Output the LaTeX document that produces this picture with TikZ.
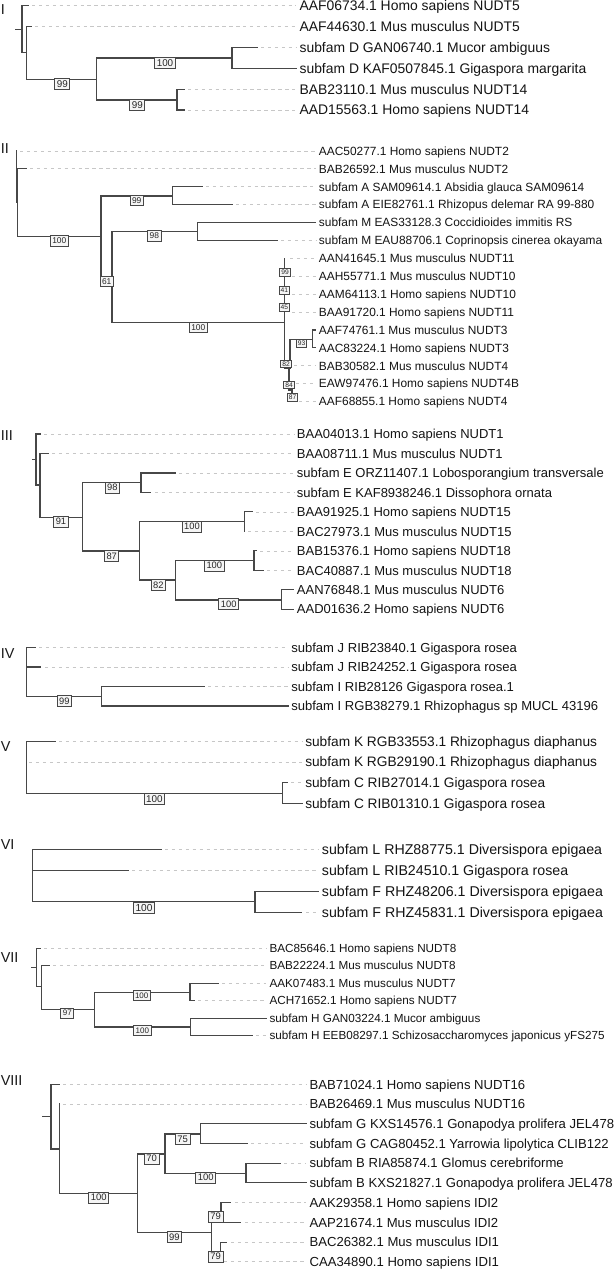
\documentclass[tikz,border=0pt]{standalone}
\usepackage{fontspec}
\setmainfont{Liberation Sans}
\newcommand\lv[6]{\draw[guide] (#1,#2) -- ({#3-3},#2); \node[#4] (#6) at (#3,#2) {#5};}
\begin{document}
\begin{tikzpicture}[x=0.75pt,y=-0.75pt,
 br/.style={draw=black!72, line width=0.85pt, line cap=rect},
 guide/.style={draw=black!22, line width=0.6pt, dash pattern=on 2.6pt off 2.6pt},
 lab/.style={anchor=base west, inner sep=0pt, text=black!92},
 LI/.style={lab, font=\fontsize{10.43}{12}\selectfont, yshift=-3.73pt},
 LII/.style={lab, font=\fontsize{8.93}{11}\selectfont, yshift=-3.2pt},
 LIII/.style={lab, font=\fontsize{9.75}{12}\selectfont, yshift=-3.49pt},
 LIV/.style={lab, font=\fontsize{9.79}{12}\selectfont, yshift=-3.5pt},
 LV/.style={lab, font=\fontsize{10.28}{12}\selectfont, yshift=-3.68pt},
 LVI/.style={lab, font=\fontsize{10.65}{12}\selectfont, yshift=-3.81pt},
 LVII/.style={lab, font=\fontsize{8.78}{11}\selectfont, yshift=-3.14pt},
 LVIII/.style={lab, font=\fontsize{9.83}{12}\selectfont, yshift=-3.52pt},
 num/.style={anchor=west, inner sep=0pt, font=\fontsize{10.8}{12}\selectfont, text=black!90},
 bs/.style={draw=black!72, fill=black!4, line width=0.7pt, inner xsep=1.5pt, inner ysep=1.6pt, text=black!85},
 bI/.style={bs, font=\fontsize{7.4}{8}\selectfont},
 bII/.style={bs, font=\fontsize{6.3}{7}\selectfont},
 bIIs/.style={bs, font=\fontsize{5}{6}\selectfont, inner xsep=1pt, inner ysep=1.2pt},
 bIII/.style={bs, font=\fontsize{7.0}{8}\selectfont},
 bV/.style={bs, font=\fontsize{7.4}{8}\selectfont},
 bVI/.style={bs, font=\fontsize{7.6}{8}\selectfont},
 bVII/.style={bs, font=\fontsize{6.0}{7}\selectfont},
 bVIII/.style={bs, font=\fontsize{7.1}{8}\selectfont},
]
\fill[white] (0,0) rectangle (614,1269);
\useasboundingbox (0,0) rectangle (614,1269);

% ---------------- I ----------------
\node[num] (nI) at (0.5,9.3) {I};
\draw[br] (16,29.2) -- (22,29.2);
\draw[br] (28,5.7) -- (22,5.7) -- (22,52.7) -- (26.7,52.7);
\draw[br] (31,26.7) -- (26.7,26.7) -- (26.7,79.3) -- (96.7,79.3);
\draw[br] (232,58) -- (96.7,58) -- (96.7,100) -- (177,100);
\draw[br] (257,47.7) -- (232,47.7) -- (232,68.3) -- (296.3,68.3);
\draw[br] (184,89.3) -- (177,89.3) -- (177,110) -- (184,110);
\node[bI] (bI1) at (62.3,84.3) {99};
\node[bI] (bI2) at (165,63) {100};
\node[bI] (bI3) at (137.3,105.3) {99};
\lv{32}{5.7}{299.3}{LI}{AAF06734.1 Homo sapiens NUDT5}{I1}
\lv{35}{26.7}{299.3}{LI}{AAF44630.1 Mus musculus NUDT5}{I2}
\lv{261}{47.7}{299.3}{LI}{subfam D GAN06740.1 Mucor ambiguus}{I3}
\lv{296.3}{68.3}{299.3}{LI}{subfam D KAF0507845.1 Gigaspora margarita}{I4}
\lv{188}{89.3}{299.3}{LI}{BAB23110.1 Mus musculus NUDT14}{I5}
\lv{188}{110}{299.3}{LI}{AAD15563.1 Homo sapiens NUDT14}{I6}

% ---------------- II ----------------
\node[num] (nII) at (0.5,148.3) {II};
\draw[br] (16.5,151) -- (16.5,202.8) -- (17.5,202.8);
\draw[br] (26.7,168.9) -- (17.5,168.9) -- (17.5,236.7) -- (101,236.7);
\draw[br] (172.3,196) -- (101,196) -- (101,277) -- (112,277);
\draw[br] (202.3,186.8) -- (172.3,186.8) -- (172.3,204.7) -- (232.7,204.7);
\draw[br] (197.3,231.7) -- (112,231.7) -- (112,322.3) -- (284.3,322.3);
\draw[br] (315.7,222.6) -- (197.3,222.6) -- (197.3,240.5) -- (277.3,240.5);
\draw[br] (284.3,258.4) -- (284.3,368) -- (289,368) -- (289,390) -- (292,390) -- (292,401.6);
\draw[br] (290,368) -- (290,339.3) -- (312.3,339.3);
\draw[br] (315,330) -- (312.3,330) -- (312.3,347.9) -- (315,347.9);
\node[bII] (bII1) at (59.3,241) {100};
\node[bII] (bII2) at (136.7,200.7) {99};
\node[bII] (bII3) at (106.7,281.5) {61};
\node[bII] (bII4) at (154.3,236) {98};
\node[bII] (bII5) at (198.3,327.3) {100};
\node[bIIs] (bII6) at (285,272.7) {99};
\node[bIIs] (bII7) at (284.3,290.3) {41};
\node[bIIs] (bII8) at (284.3,307.7) {45};
\node[bIIs] (bII9) at (301.7,343.7) {93};
\node[bIIs] (bII10) at (286,364) {82};
\node[bIIs] (bII11) at (289,385) {84};
\node[bIIs] (bII12) at (292.7,397.3) {87};
\lv{20}{151}{318.7}{LII}{AAC50277.1 Homo sapiens NUDT2}{II1}
\lv{30}{168.9}{318.7}{LII}{BAB26592.1 Mus musculus NUDT2}{II2}
\lv{206}{186.8}{318.7}{LII}{subfam A SAM09614.1 Absidia glauca SAM09614}{II3}
\lv{236}{204.7}{318.7}{LII}{subfam A EIE82761.1 Rhizopus delemar RA 99-880}{II4}
\lv{315.7}{222.6}{318.7}{LII}{subfam M EAS33128.3 Coccidioides immitis RS}{II5}
\lv{281}{240.5}{318.7}{LII}{subfam M EAU88706.1 Coprinopsis cinerea okayama}{II6}
\lv{290}{258.4}{318.7}{LII}{AAN41645.1 Mus musculus NUDT11}{II7}
\lv{292}{276.3}{318.7}{LII}{AAH55771.1 Mus musculus NUDT10}{II8}
\lv{292}{294.2}{318.7}{LII}{AAM64113.1 Homo sapiens NUDT10}{II9}
\lv{292}{312.1}{318.7}{LII}{BAA91720.1 Homo sapiens NUDT11}{II10}
\lv{315.7}{330}{318.7}{LII}{AAF74761.1 Mus musculus NUDT3}{II11}
\lv{315.7}{347.9}{318.7}{LII}{AAC83224.1 Homo sapiens NUDT3}{II12}
\lv{294}{365.8}{318.7}{LII}{BAB30582.1 Mus musculus NUDT4}{II13}
\lv{296}{383.7}{318.7}{LII}{EAW97476.1 Homo sapiens NUDT4B}{II14}
\lv{299}{401.6}{318.7}{LII}{AAF68855.1 Homo sapiens NUDT4}{II15}

% ---------------- III ----------------
\node[num] (nIII) at (0.5,436) {III};
\draw[br] (32.7,459.5) -- (36,459.5);
\draw[br] (40,434) -- (36,434) -- (36,485) -- (40,485);
\draw[br] (48.3,453.5) -- (40,453.5) -- (40,517.3) -- (82.7,517.3);
\draw[br] (141,482.7) -- (82.7,482.7) -- (82.7,551) -- (139.3,551);
\draw[br] (175,473) -- (141,473) -- (141,492.4) -- (150.7,492.4);
\draw[br] (244.3,521.7) -- (139.3,521.7) -- (139.3,580) -- (175.7,580);
\draw[br] (252.3,511.9) -- (244.3,511.9) -- (244.3,531.4);
\draw[br] (254,560.7) -- (175.7,560.7) -- (175.7,600) -- (281.7,600);
\draw[br] (256,550.9) -- (254,550.9) -- (254,570.4) -- (263.3,570.4);
\draw[br] (293.7,589.8) -- (281.7,589.8) -- (281.7,609.3) -- (293.7,609.3);
\node[bIII] (bIII1) at (61,521.7) {91};
\node[bIII] (bIII2) at (112.3,487.7) {98};
\node[bIII] (bIII3) at (111.7,556) {87};
\node[bIII] (bIII4) at (192,526.7) {100};
\node[bIII] (bIII5) at (158.3,585) {82};
\node[bIII] (bIII6) at (214.3,565.7) {100};
\node[bIII] (bIII7) at (228.7,604.3) {100};
\lv{44}{434}{296.7}{LIII}{BAA04013.1 Homo sapiens NUDT1}{III1}
\lv{52}{453.5}{296.7}{LIII}{BAA08711.1 Mus musculus NUDT1}{III2}
\lv{179}{473}{296.7}{LIII}{subfam E ORZ11407.1 Lobosporangium transversale}{III3}
\lv{155}{492.4}{296.7}{LIII}{subfam E KAF8938246.1 Dissophora ornata}{III4}
\lv{256}{511.9}{296.7}{LIII}{BAA91925.1 Homo sapiens NUDT15}{III5}
\lv{248}{531.4}{296.7}{LIII}{BAC27973.1 Mus musculus NUDT15}{III6}
\lv{260}{550.9}{296.7}{LIII}{BAB15376.1 Homo sapiens NUDT18}{III7}
\lv{267}{570.4}{296.7}{LIII}{BAC40887.1 Mus musculus NUDT18}{III8}
\lv{293.7}{589.8}{296.7}{LIII}{AAN76848.1 Mus musculus NUDT6}{III9}
\lv{293.7}{609.3}{296.7}{LIII}{AAD01636.2 Homo sapiens NUDT6}{III10}

% ---------------- IV ----------------
\node[num] (nIV) at (0.5,653.3) {IV};
\draw[br] (35,647.7) -- (26.3,647.7) -- (26.3,696.4) -- (101.7,696.4);
\draw[br] (26.3,667) -- (40.7,667);
\draw[br] (204.3,686.7) -- (101.7,686.7) -- (101.7,706) -- (288,706);
\node[bIII] (bIV1) at (64.3,701.3) {99};
\lv{39}{647.7}{291}{LIV}{subfam J RIB23840.1 Gigaspora rosea}{IV1}
\lv{45}{667}{291}{LIV}{subfam J RIB24252.1 Gigaspora rosea}{IV2}
\lv{208}{686.7}{291}{LIV}{subfam I RIB28126 Gigaspora rosea.1}{IV3}
\lv{288}{706}{291}{LIV}{subfam I RGB38279.1 Rhizophagus sp MUCL 43196}{IV4}

% ---------------- V ----------------
\node[num] (nV) at (0.5,746.7) {V};
\draw[br] (55,741.7) -- (26.3,741.7) -- (26.3,793.3) -- (282.7,793.3);
\draw[br] (287,782.7) -- (282.7,782.7) -- (282.7,803.3) -- (302,803.3);
\node[bV] (bV1) at (154.3,798.7) {100};
\lv{59}{741.7}{305}{LV}{subfam K RGB33553.1 Rhizophagus diaphanus}{V1}
\lv{29}{762}{305}{LV}{subfam K RGB29190.1 Rhizophagus diaphanus}{V2}
\lv{291}{782.7}{305}{LV}{subfam C RIB27014.1 Gigaspora rosea}{V3}
\lv{302}{803.3}{305}{LV}{subfam C RIB01310.1 Gigaspora rosea}{V4}

% ---------------- VI ----------------
\node[num] (nVI) at (0.5,845) {VI};
\draw[br] (161,849.3) -- (32.3,849.3) -- (32.3,901.7) -- (255,901.7);
\draw[br] (32.3,870.7) -- (128.3,870.7);
\draw[br] (318.7,891.7) -- (255,891.7) -- (255,912.7) -- (301.7,912.7);
\node[bVI] (bVI1) at (144,907.7) {100};
\lv{165}{849.3}{321.7}{LVI}{subfam L RHZ88775.1 Diversispora epigaea}{VI1}
\lv{132}{870.7}{321.7}{LVI}{subfam L RIB24510.1 Gigaspora rosea}{VI2}
\lv{318.7}{891.7}{321.7}{LVI}{subfam F RHZ48206.1 Diversispora epigaea}{VI3}
\lv{306}{912.7}{321.7}{LVI}{subfam F RHZ45831.1 Diversispora epigaea}{VI4}

% ---------------- VII ----------------
\node[num] (nVII) at (0.5,957.3) {VII};
\draw[br] (32,967.5) -- (36.7,967.5);
\draw[br] (40.7,948.3) -- (36.7,948.3) -- (36.7,986.7) -- (41.3,986.7);
\draw[br] (49.3,965.8) -- (41.3,965.8) -- (41.3,1009.3) -- (94.3,1009.3);
\draw[br] (190,992.3) -- (94.3,992.3) -- (94.3,1027) -- (190.7,1027);
\draw[br] (218.3,983.3) -- (190,983.3) -- (190,1000.8) -- (194,1000.8);
\draw[br] (266.3,1018.3) -- (190.7,1018.3) -- (190.7,1035.8) -- (252.3,1035.8);
\node[bVII] (bVII1) at (67.3,1013) {97};
\node[bVII] (bVII2) at (141.7,995.7) {100};
\node[bVII] (bVII3) at (142.3,1030.7) {100};
\lv{44}{948.3}{269.3}{LVII}{BAC85646.1 Homo sapiens NUDT8}{VII1}
\lv{53}{965.8}{269.3}{LVII}{BAB22224.1 Mus musculus NUDT8}{VII2}
\lv{222}{983.3}{269.3}{LVII}{AAK07483.1 Mus musculus NUDT7}{VII3}
\lv{198}{1000.8}{269.3}{LVII}{ACH71652.1 Homo sapiens NUDT7}{VII4}
\lv{266.3}{1018.3}{269.3}{LVII}{subfam H GAN03224.1 Mucor ambiguus}{VII5}
\lv{256}{1035.8}{269.3}{LVII}{subfam H EEB08297.1 Schizosaccharomyces japonicus yFS275}{VII6}

% ---------------- VIII ----------------
\node[num] (nVIII) at (0.5,1080.7) {VIII};
\draw[br] (43,1116.7) -- (51,1116.7);
\draw[br] (59.3,1084.3) -- (51,1084.3) -- (51,1149) -- (59.3,1149);
\draw[br] (59.3,1104) -- (59.3,1193.3) -- (137.7,1193.3);
\draw[br] (165,1154) -- (137.7,1154) -- (137.7,1232.3) -- (211.7,1232.3);
\draw[br] (200.7,1134) -- (165,1134) -- (165,1173.3) -- (246,1173.3);
\draw[br] (306.3,1123.7) -- (200.7,1123.7) -- (200.7,1143.5) -- (247.3,1143.5);
\draw[br] (280,1163.2) -- (246,1163.2) -- (246,1182.9) -- (306.3,1182.9);
\draw[br] (221,1212.5) -- (211.7,1212.5) -- (211.7,1252) -- (220.3,1252);
\draw[br] (230.7,1202.6) -- (221,1202.6) -- (221,1222.3) -- (240.7,1222.3);
\draw[br] (226.7,1242.1) -- (220.3,1242.1) -- (220.3,1261.8);
\node[bVIII] (bVIII1) at (98.7,1197.7) {100};
\node[bVIII] (bVIII2) at (151.7,1158.7) {70};
\node[bVIII] (bVIII3) at (182.7,1139) {75};
\node[bVIII] (bVIII4) at (205.7,1177.7) {100};
\node[bVIII] (bVIII5) at (174.3,1237) {99};
\node[bVIII] (bVIII6) at (215.7,1216.7) {79};
\node[bVIII] (bVIII7) at (215.7,1256.7) {79};
\lv{63}{1084.3}{309.3}{LVIII}{BAB71024.1 Homo sapiens NUDT16}{VIII1}
\lv{63}{1104}{309.3}{LVIII}{BAB26469.1 Mus musculus NUDT16}{VIII2}
\lv{306.3}{1123.7}{309.3}{LVIII}{subfam G KXS14576.1 Gonapodya prolifera JEL478}{VIII3}
\lv{251}{1143.5}{309.3}{LVIII}{subfam G CAG80452.1 Yarrowia lipolytica CLIB122}{VIII4}
\lv{284}{1163.2}{309.3}{LVIII}{subfam B RIA85874.1 Glomus cerebriforme}{VIII5}
\lv{306.3}{1182.9}{309.3}{LVIII}{subfam B KXS21827.1 Gonapodya prolifera JEL478}{VIII6}
\lv{235}{1202.6}{309.3}{LVIII}{AAK29358.1 Homo sapiens IDI2}{VIII7}
\lv{245}{1222.3}{309.3}{LVIII}{AAP21674.1 Mus musculus IDI2}{VIII8}
\lv{231}{1242.1}{309.3}{LVIII}{BAC26382.1 Mus musculus IDI1}{VIII9}
\lv{224}{1261.8}{309.3}{LVIII}{CAA34890.1 Homo sapiens IDI1}{VIII10}
\end{tikzpicture}
\end{document}
